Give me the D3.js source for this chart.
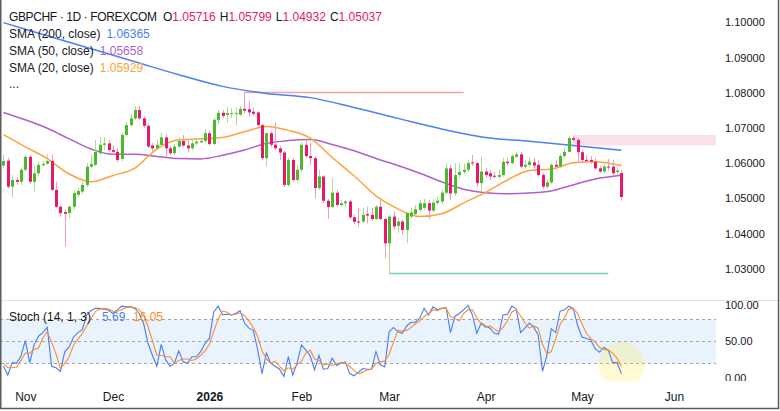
<!DOCTYPE html>
<html>
<head>
<meta charset="utf-8">
<script src="https://cdn.jsdelivr.net/npm/d3@7"></script>
<style>
  body { margin: 0; background: #fff; }
  svg { display: block; font-family: "Liberation Sans", Arial, sans-serif; }
</style>
</head>
<body>
<div id="chart"></div>
<script>
// GBPCHF daily, one entry per trading day (index 0 = 27 Oct 2025, last = 14 May 2026)
var opens = [
  1.0593,1.0607,1.0533,1.0552,1.0547,1.0581,1.0618,1.0547,1.0571,1.0594,
  1.0598,1.0606,1.0524,1.0476,1.0461,1.0458,1.0476,1.0510,1.0519,1.0538,
  1.0590,1.0595,1.0628,1.0652,1.0656,1.0637,1.0632,1.0612,1.0680,1.0708,
  1.0727,1.0751,1.0727,1.0706,1.0650,1.0642,1.0652,1.0673,1.0642,1.0628,
  1.0647,1.0663,1.0650,1.0642,1.0656,1.0659,1.0663,1.0685,1.0654,1.0723,
  1.0743,1.0737,1.0740,1.0740,1.0738,1.0754,1.0753,1.0746,1.0744,1.0708,
  1.0614,1.0685,1.0652,1.0642,1.0630,1.0538,1.0609,1.0552,1.0581,1.0652,
  1.0620,1.0614,1.0529,1.0562,1.0493,1.0475,1.0516,1.0481,1.0486,1.0491,
  1.0446,1.0434,1.0434,1.0455,1.0453,1.0441,1.0476,1.0441,1.0372,1.0448,
  1.0422,1.0434,1.0410,1.0448,1.0455,1.0467,1.0473,1.0486,1.0465,1.0487,
  1.0491,1.0516,1.0585,1.0514,1.0566,1.0575,1.0581,1.0602,1.0600,1.0543,
  1.0576,1.0571,1.0564,1.0561,1.0566,1.0604,1.0600,1.0618,1.0625,1.0590,
  1.0595,1.0602,1.0595,1.0566,1.0533,1.0545,1.0595,1.0590,1.0620,1.0632,
  1.0671,1.0666,1.0631,1.0609,1.0609,1.0604,1.0585,1.0576,1.0590,1.0590,
  1.0575,1.05716
];
var highs = [
  1.0625,1.0615,1.0566,1.0561,1.0587,1.0623,1.0623,1.0595,1.0604,1.0606,
  1.0625,1.0625,1.0547,1.0481,1.0467,1.0481,1.0524,1.0530,1.0547,1.0600,
  1.0623,1.0666,1.0674,1.0674,1.0666,1.0649,1.0643,1.0686,1.0717,1.0740,
  1.0762,1.0762,1.0734,1.0711,1.0657,1.0666,1.0686,1.0680,1.0649,1.0654,
  1.0674,1.0680,1.0666,1.0671,1.0671,1.0669,1.0697,1.0691,1.0728,1.0751,
  1.0751,1.0760,1.0757,1.0757,1.0762,1.0801,1.0777,1.0757,1.0748,1.0711,
  1.0686,1.0691,1.0715,1.0649,1.0634,1.0615,1.0615,1.0595,1.0660,1.0666,
  1.0657,1.0620,1.0581,1.0566,1.0498,1.0558,1.0524,1.0495,1.0495,1.0495,
  1.0453,1.0473,1.0473,1.0476,1.0473,1.0481,1.0495,1.0447,1.0453,1.0461,
  1.0444,1.0439,1.0461,1.0473,1.0481,1.0495,1.0498,1.0495,1.0498,1.0504,
  1.0524,1.0600,1.0595,1.0600,1.0600,1.0600,1.0609,1.0623,1.0603,1.0618,
  1.0586,1.0581,1.0575,1.0581,1.0615,1.0615,1.0626,1.0632,1.0632,1.0609,
  1.0618,1.0615,1.0609,1.0572,1.0552,1.0600,1.0609,1.0626,1.0643,1.0677,
  1.0678,1.0671,1.0637,1.0623,1.0620,1.0615,1.0592,1.0595,1.0612,1.0609,
  1.0589,1.05799
];
var lows = [
  1.0585,1.0527,1.0502,1.0538,1.0538,1.0575,1.0541,1.0518,1.0564,1.0591,
  1.0595,1.0521,1.0472,1.0448,1.0363,1.0444,1.0467,1.0504,1.0512,1.0532,
  1.0586,1.0592,1.0623,1.0637,1.0632,1.0623,1.0603,1.0606,1.0674,1.0703,
  1.0723,1.0723,1.0700,1.0643,1.0632,1.0637,1.0646,1.0618,1.0623,1.0623,
  1.0643,1.0646,1.0630,1.0637,1.0652,1.0657,1.0657,1.0649,1.0652,1.0711,
  1.0728,1.0714,1.0728,1.0708,1.0734,1.0742,1.0732,1.0734,1.0706,1.0609,
  1.0590,1.0646,1.0637,1.0609,1.0532,1.0532,1.0547,1.0547,1.0575,1.0615,
  1.0595,1.0500,1.0524,1.0487,1.0441,1.0473,1.0476,1.0476,1.0476,1.0441,
  1.0427,1.0420,1.0430,1.0429,1.0436,1.0439,1.0439,1.0330,1.0287,1.0410,
  1.0402,1.0396,1.0372,1.0444,1.0450,1.0461,1.0467,1.0441,1.0461,1.0481,
  1.0484,1.0510,1.0495,1.0507,1.0558,1.0569,1.0575,1.0592,1.0533,1.0519,
  1.0558,1.0552,1.0558,1.0555,1.0561,1.0592,1.0595,1.0615,1.0586,1.0583,
  1.0589,1.0586,1.0561,1.0527,1.0527,1.0541,1.0586,1.0586,1.0615,1.0632,
  1.0660,1.0600,1.0600,1.0600,1.0598,1.0581,1.0572,1.0572,1.0578,1.0564,
  1.0566,1.04932
];
var closes = [
  1.0606,1.0533,1.0552,1.0547,1.0581,1.0618,1.0547,1.0571,1.0595,1.0598,
  1.0606,1.0524,1.0476,1.0458,1.0456,1.0476,1.0515,1.0521,1.0538,1.0590,
  1.0597,1.0632,1.0652,1.0656,1.0637,1.0632,1.0609,1.0680,1.0708,1.0727,
  1.0751,1.0727,1.0706,1.0647,1.0642,1.0652,1.0673,1.0642,1.0628,1.0647,
  1.0663,1.0650,1.0642,1.0656,1.0661,1.0663,1.0685,1.0654,1.0723,1.0743,
  1.0734,1.0742,1.0742,1.0742,1.0754,1.0749,1.0744,1.0740,1.0708,1.0614,
  1.0685,1.0652,1.0642,1.0630,1.0538,1.0609,1.0552,1.0581,1.0652,1.0620,
  1.0614,1.0529,1.0562,1.0493,1.0475,1.0516,1.0481,1.0486,1.0491,1.0446,
  1.0433,1.0431,1.0453,1.0451,1.0441,1.0476,1.0441,1.0372,1.0448,1.0420,
  1.0434,1.0410,1.0458,1.0460,1.0469,1.0486,1.0486,1.0465,1.0488,1.0493,
  1.0516,1.0585,1.0514,1.0566,1.0575,1.0581,1.0600,1.0599,1.0543,1.0576,
  1.0566,1.0562,1.0563,1.0566,1.0604,1.0600,1.0620,1.0625,1.0590,1.0595,
  1.0604,1.0593,1.0566,1.0533,1.0545,1.0595,1.0590,1.0620,1.0632,1.0671,
  1.0666,1.0631,1.0609,1.0606,1.0604,1.0585,1.0576,1.0590,1.0588,1.0571,
  1.0579,1.05037
];

// moving averages at these bar indices
var sma200Idx = [0,10,20,30,40,50,60,70,80,90,100,110,120,130,141];
var sma200 = [1.0999,1.0962,1.0925,1.0888,1.0851,1.0818,1.0798,1.0786,1.0758,1.0727,1.0697,1.0673,1.0662,1.0650,1.06365];
var smaIdx = [0,5,10,15,20,25,30,35,40,45,50,55,60,65,70,75,80,85,90,95,100,105,110,115,120,125,130,135,141];
var sma50 = [1.0744,1.0723,1.0699,1.0669,1.0640,1.0625,1.0625,1.0619,1.0613,1.0612,1.0622,1.0637,1.0656,1.0664,1.0667,
  1.0653,1.0635,1.0613,1.0593,1.0571,1.0547,1.0526,1.0516,1.0513,1.0515,1.0521,1.0538,1.0555,1.05658];
var sma20 = [1.0681,1.0646,1.0613,1.0569,1.0547,1.0565,1.0586,1.0640,1.0666,1.0669,1.0673,1.0689,1.0704,1.0693,1.0671,
  1.0616,1.0564,1.0507,1.0470,1.0448,1.0456,1.0487,1.0517,1.0552,1.0579,1.0583,1.0601,1.0604,1.05929];

// Stochastic (14, 1, 3)
var stochK = [
  16,4,21,20,30,51,21,45,57,62, 69,16,14,9,36,42,56,62,66,86,
  92,95,95,94,92,88,93,98,97,97, 95,88,74,47,31,16,46,25,16,20,
  37,22,20,29,29,36,47,54,90,98, 86,87,86,88,92,75,68,65,39,6,
  34,20,16,12,2,29,4,20,45,38, 30,11,31,12,13,27,17,20,22,6,
  3,8,13,12,12,36,18,15,63,69, 63,61,71,76,76,82,95,86,97,93,
  95,96,62,84,88,93,99,86,61,75, 71,68,61,60,86,87,98,94,62,68,
  75,69,59,9,31,67,62,91,93,98, 95,72,56,54,52,40,35,42,38,21,
  21,5.69
];
var stochD = [
  20,14,14,15,24,34,34,39,41,55, 63,49,33,13,20,29,45,53,61,71,
  81,91,94,95,94,91,91,93,96,97, 96,93,86,70,51,31,31,29,29,20,
  24,26,26,24,26,31,37,46,64,81, 91,90,86,87,89,85,78,69,57,37,
  26,20,23,16,10,14,12,18,23,34, 38,26,24,18,19,17,19,21,20,16,
  10,6,8,11,12,20,22,23,32,49, 65,64,65,69,74,78,84,88,93,92,
  95,95,84,81,78,88,93,93,82,74, 69,71,67,63,69,78,90,93,85,75,
  68,71,68,46,33,36,53,73,82,94, 95,88,74,61,54,49,42,39,38,34,
  27,16.05
];

// month labels on the time axis (bar index of the first trading day)
var monthIdx = [5, 25, 47, 68, 88, 110, 132, 153];
var monthLabels = ["Nov", "Dec", "2026", "Feb", "Mar", "Apr", "May", "Jun"];
var priceTicks = [1.03, 1.04, 1.05, 1.06, 1.07, 1.08, 1.09, 1.10];
var stochTicks = [0, 50, 100];

// drawn levels and zone
var levelPrice = [1.0801, 1.0287];
var levelFrom = [55, 88];
var levelTo = [105, 138];
var levelColor = ["#f5a0a6", "#79d3ab"];
var zoneFrom = 130, zoneTop = 1.0680, zoneBottom = 1.0650;

var W = 780, H = 411;
var paneRight = 716;
var upColor = "#4cb82b", downColor = "#e8176a";
var upWick = "#a9dd93", downWick = "#f39abd";
var textColor = "#131722";

var svg = d3.select("#chart").append("svg")
  .attr("width", W)
  .attr("height", H);

var x = d3.scaleLinear().domain([-0.78, 162.58]).range([0, paneRight]);
var y = d3.scaleLinear().domain([1.03, 1.10]).range([268.7, 22.3]);
var ys = d3.scaleLinear().domain([0, 100]).range([378, 304.7]);

var defs = svg.append("defs");
defs.append("clipPath").attr("id", "clipPrice")
  .append("rect").attr("x", 0).attr("y", 0).attr("width", paneRight).attr("height", 300);
defs.append("clipPath").attr("id", "clipStoch")
  .append("rect").attr("x", 0).attr("y", 300).attr("width", paneRight).attr("height", 81);
defs.append("clipPath").attr("id", "clipStochAxis")
  .append("rect").attr("x", 0).attr("y", 300).attr("width", W).attr("height", 81);

var bars = d3.range(opens.length).map(function(i) {
  return {i: i, o: opens[i], h: highs[i], l: lows[i], c: closes[i]};
});

// ---------- price pane ----------
var price = svg.append("g").attr("clip-path", "url(#clipPrice)");

// supply zone
price.append("rect")
  .attr("x", x(zoneFrom))
  .attr("y", y(zoneTop))
  .attr("width", paneRight - x(zoneFrom))
  .attr("height", y(zoneBottom) - y(zoneTop))
  .attr("fill", "#fbe1ec");

// horizontal levels
levelPrice.forEach(function(p, k) {
  price.append("line")
    .attr("x1", x(levelFrom[k])).attr("x2", x(levelTo[k]))
    .attr("y1", Math.round(y(p)) + 0.5).attr("y2", Math.round(y(p)) + 0.5)
    .attr("stroke", levelColor[k])
    .attr("stroke-width", 1.3);
});

// moving averages
function smaLine(idx, vals, color) {
  var pts = idx.map(function(d, k) { return [d, vals[k]]; });
  price.append("path")
    .datum(pts)
    .attr("fill", "none")
    .attr("stroke", color)
    .attr("stroke-width", 1.5)
    .attr("d", d3.line()
      .x(function(d) { return x(d[0]); })
      .y(function(d) { return y(d[1]); })
      .curve(d3.curveMonotoneX));
}
smaLine(sma200Idx, sma200, "#4d7ff5");
smaLine(smaIdx, sma50, "#b15fcc");
smaLine(smaIdx, sma20, "#ffa33a");

// candles
var candle = price.append("g").selectAll("g")
  .data(bars)
  .enter().append("g");

candle.append("line")
  .attr("x1", function(d) { return Math.round(x(d.i)) + 0.5; })
  .attr("x2", function(d) { return Math.round(x(d.i)) + 0.5; })
  .attr("y1", function(d) { return y(d.h); })
  .attr("y2", function(d) { return y(d.l); })
  .attr("stroke", function(d) { return d.c >= d.o ? upWick : downWick; })
  .attr("stroke-width", 1);

candle.append("rect")
  .attr("x", function(d) { return Math.round(x(d.i)) - 1; })
  .attr("width", 3)
  .attr("y", function(d) { return y(Math.max(d.o, d.c)); })
  .attr("height", function(d) { return Math.max(1, Math.abs(y(d.o) - y(d.c))); })
  .attr("fill", function(d) { return d.c >= d.o ? upColor : downColor; });

// price axis
var pAxis = svg.append("g")
  .attr("transform", "translate(725,0)")
  .call(d3.axisRight(y).tickValues(priceTicks).tickSize(0).tickPadding(0)
    .tickFormat(d3.format(".5f")));
pAxis.select(".domain").remove();
pAxis.selectAll("text")
  .attr("fill", textColor)
  .style("font-size", "11px")
  .style("font-family", "'Liberation Sans', Arial, sans-serif");

// ---------- stochastic pane ----------
var st = svg.append("g").attr("clip-path", "url(#clipStoch)");

st.append("rect")
  .attr("x", 0).attr("width", paneRight)
  .attr("y", ys(80)).attr("height", ys(20) - ys(80))
  .attr("fill", "#e9f3fd");

[80, 50, 20].forEach(function(v) {
  st.append("line")
    .attr("x1", 0).attr("x2", paneRight)
    .attr("y1", Math.round(ys(v)) + 0.5).attr("y2", Math.round(ys(v)) + 0.5)
    .attr("stroke", "#a3a6af")
    .attr("stroke-dasharray", "3,3");
});

st.append("circle")
  .attr("cx", x(141)).attr("cy", ys(18))
  .attr("r", 23)
  .attr("fill", "rgba(255,232,60,0.22)");

var sLine = d3.line()
  .x(function(d, i) { return x(i); })
  .y(function(d) { return ys(d); });

st.append("path").datum(stochK)
  .attr("fill", "none").attr("stroke", "#4a7cf6").attr("stroke-width", 1.1)
  .attr("d", sLine);
st.append("path").datum(stochD)
  .attr("fill", "none").attr("stroke", "#fb8c2c").attr("stroke-width", 1.1)
  .attr("d", sLine);

var sAxis = svg.append("g")
  .attr("clip-path", "url(#clipStochAxis)")
  .append("g")
  .attr("transform", "translate(725,0)")
  .call(d3.axisRight(ys).tickValues(stochTicks).tickSize(0).tickPadding(0)
    .tickFormat(d3.format(".2f")));
sAxis.select(".domain").remove();
sAxis.selectAll("text")
  .attr("fill", textColor)
  .style("font-size", "11px")
  .style("font-family", "'Liberation Sans', Arial, sans-serif");

// pane separator
svg.append("line")
  .attr("x1", 0).attr("x2", W)
  .attr("y1", 300.5).attr("y2", 300.5)
  .attr("stroke", "#e0e3eb");

// ---------- time axis ----------
var tAxis = svg.append("g")
  .attr("transform", "translate(0,392)")
  .call(d3.axisBottom(x).tickValues(monthIdx).tickSize(0).tickPadding(0)
    .tickFormat(function(d, i) { return monthLabels[i]; }));
tAxis.select(".domain").remove();
tAxis.selectAll("text")
  .attr("fill", textColor)
  .style("font-size", "12px")
  .style("font-family", "'Liberation Sans', Arial, sans-serif")
  .style("font-weight", function(d, i) { return monthLabels[i] === "2026" ? "bold" : "normal"; });

// ---------- legends ----------
var head = svg.append("text")
  .attr("x", 9).attr("y", 20.5)
  .style("font-size", "12px")
  .attr("fill", textColor);
head.append("tspan").attr("textLength", 148).text("GBPCHF · 1D · FOREXCOM");
var ohlc = [["O", opens[141]], ["H", highs[141]], ["L", lows[141]], ["C", closes[141]]];
ohlc.forEach(function(p, k) {
  var t = head.append("tspan").text(p[0]);
  if (k === 0) t.attr("x", 163); else t.attr("dx", 4);
  head.append("tspan").attr("fill", downColor).text(d3.format(".5f")(p[1]));
});

var smaLegend = [
  ["SMA (200, close)", sma200[sma200.length - 1], "#4d7ff5"],
  ["SMA (50, close)", sma50[sma50.length - 1], "#b15fcc"],
  ["SMA (20, close)", sma20[sma20.length - 1], "#ffa33a"]
];
smaLegend.forEach(function(s, k) {
  var t = svg.append("text")
    .attr("x", 9).attr("y", 38 + k * 17.2)
    .style("font-size", "12px")
    .attr("fill", textColor);
  t.append("tspan").text(s[0]);
  t.append("tspan").attr("dx", 6).attr("fill", s[2]).text(d3.format(".5f")(s[1]));
});
svg.append("text")
  .attr("x", 9).attr("y", 88)
  .style("font-size", "12px")
  .attr("fill", textColor)
  .text("...");

var stLeg = svg.append("text")
  .attr("x", 9).attr("y", 320.5)
  .style("font-size", "12px")
  .attr("fill", textColor);
stLeg.append("tspan").text("Stoch (14, 1, 3)");
stLeg.append("tspan").attr("x", 102).attr("fill", "#4a7cf6").text(d3.format(".2f")(stochK[stochK.length - 1]));
stLeg.append("tspan").attr("x", 133).attr("fill", "#fb8c2c").text(d3.format(".2f")(stochD[stochD.length - 1]));

// outer frame (left, right, bottom)
svg.append("path")
  .attr("d", "M0.75,0V408.5H778.5V0")
  .attr("fill", "none")
  .attr("stroke", "#5d5d5d")
  .attr("stroke-width", 1.5);
</script>
</body>
</html>
